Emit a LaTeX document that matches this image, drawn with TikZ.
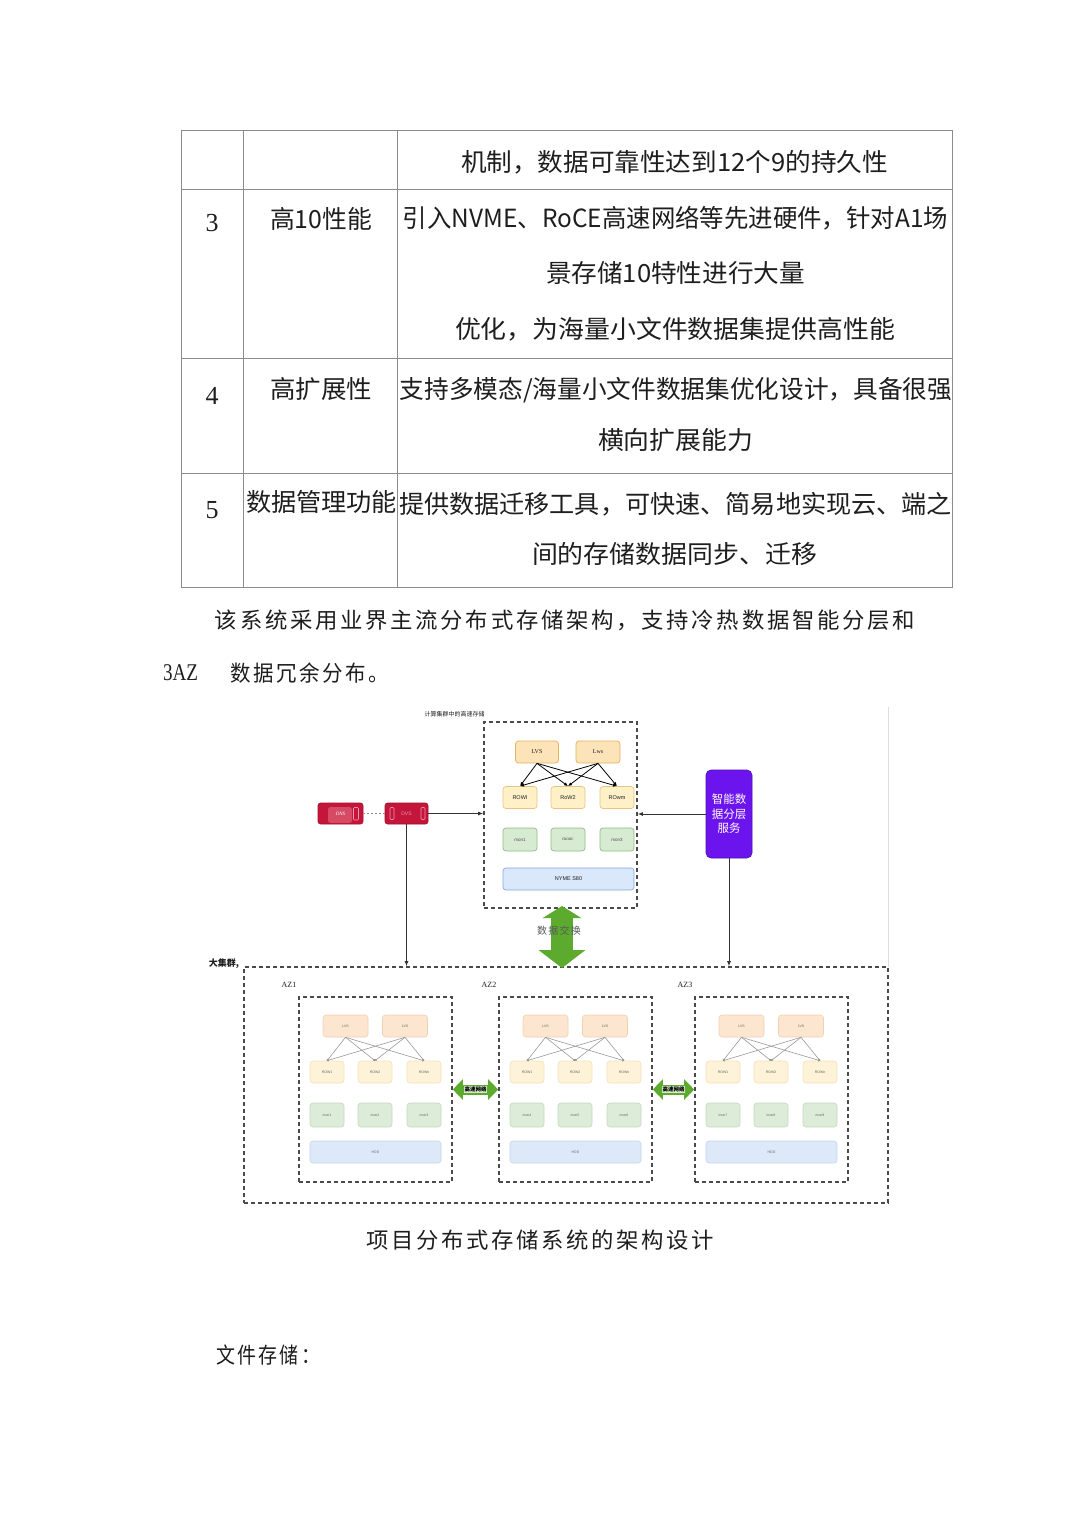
\documentclass[tikz,border=0pt]{standalone}
\usepackage{fontspec}
\usepackage{graphicx}
\setmainfont{Liberation Serif}
\setsansfont{Liberation Sans}
\newfontfamily\cjk{Noto Sans CJK SC}
\newfontfamily\cjksp[LetterSpace=12]{Noto Sans CJK SC}
\usetikzlibrary{arrows.meta}
\newcommand\fitw[2]{\resizebox{#1}{\height}{#2}}

\definecolor{ink}{HTML}{1E1E1E}
\definecolor{ink2}{HTML}{333333}
\definecolor{tablegray}{HTML}{8C8C8C}
\definecolor{dashgray}{HTML}{4A4A4A}
\definecolor{lvsfill}{HTML}{FDE3B8}
\definecolor{lvsdraw}{HTML}{E6B260}
\definecolor{rowfill}{HTML}{FFF0C8}
\definecolor{rowdraw}{HTML}{E4C77E}
\definecolor{monfill}{HTML}{D7EAD2}
\definecolor{mondraw}{HTML}{8FBC84}
\definecolor{nvfill}{HTML}{DAE8FC}
\definecolor{nvdraw}{HTML}{8AA9D6}
\definecolor{alvsfill}{HTML}{FCE6D0}
\definecolor{alvsdraw}{HTML}{F1D2B0}
\definecolor{arowfill}{HTML}{FEF2D8}
\definecolor{arowdraw}{HTML}{F3E2B8}
\definecolor{amonfill}{HTML}{DDEBD9}
\definecolor{amondraw}{HTML}{C4DBBE}
\definecolor{ahddfill}{HTML}{DDE9F9}
\definecolor{ahdddraw}{HTML}{C3D5EE}
\definecolor{redfill}{HTML}{C4163A}
\definecolor{reddraw}{HTML}{A0102C}
\definecolor{redin}{HTML}{D64A64}
\definecolor{redmark}{HTML}{F096A8}
\definecolor{purp}{HTML}{6C14EE}
\definecolor{purpd}{HTML}{4A0FB0}
\definecolor{grn}{HTML}{5CAB2E}
\definecolor{faint}{HTML}{DDDDDD}

\newcommand\azgroup[6]{%
  \node[dbox, minimum width=153pt, minimum height=185pt] (#1) at ({#2+76.5},1089.5) {};
  \node[azlab] (#1lab) at ({#2-10},985) {#3};
  \node[albox] (#1l1) at ({#2+46.5},1026) {LVS};
  \node[albox] (#1l2) at ({#2+106},1026) {LVS};
  \node[arbox] (#1r1) at ({#2+28},1072) {ROW1};
  \node[arbox] (#1r2) at ({#2+76},1072) {ROW2};
  \node[arbox] (#1r3) at ({#2+125},1072) {ROWn};
  \node[ambox] (#1m1) at ({#2+28},1115) {#4};
  \node[ambox] (#1m2) at ({#2+76},1115) {#5};
  \node[ambox] (#1m3) at ({#2+125},1115) {#6};
  \node[ahbox] (#1h) at ({#2+76.5},1152) {HDD};
  \foreach \s in {l1,l2}{\foreach \t in {r1,r2,r3}{\draw[azline] (#1\s.south) -- (#1\t.north);}}
}

\tikzset{
  tline/.style={draw=tablegray, line width=1pt},
  ttext/.style={inner sep=0pt, text=ink, font=\cjk\fontsize{25}{30}\selectfont},
  tnum/.style={inner sep=0pt, text=ink, font=\fontsize{26}{30}\selectfont},
  ptext/.style={inner sep=0pt, text=ink, font=\cjksp\fontsize{22}{26}\selectfont},
  dbox/.style={draw=dashgray, line width=1.6pt, dash pattern=on 4pt off 3pt, inner sep=0pt},
  sbox/.style={rounded corners=3pt, line width=0.7pt, inner sep=0pt, text=ink, font=\sffamily\fontsize{5.5}{6}\selectfont},
  lvsbox/.style={sbox, fill=lvsfill, draw=lvsdraw, minimum width=43pt, minimum height=22pt, font=\rmfamily\fontsize{6}{6}\selectfont},
  rowbox/.style={sbox, fill=rowfill, draw=rowdraw, minimum width=34pt, minimum height=22pt},
  monbox/.style={sbox, fill=monfill, draw=mondraw, minimum width=34pt, minimum height=23pt, font=\sffamily\fontsize{4.5}{5}\selectfont, text=black!70},
  nvbox/.style={sbox, fill=nvfill, draw=nvdraw, minimum width=131pt, minimum height=22pt},
  asbox/.style={rounded corners=3pt, line width=0.6pt, inner sep=0pt, text=black!60, font=\sffamily\fontsize{3.5}{4}\selectfont},
  albox/.style={asbox, fill=alvsfill, draw=alvsdraw, minimum width=45pt, minimum height=22pt},
  arbox/.style={asbox, fill=arowfill, draw=arowdraw, minimum width=34pt, minimum height=22pt},
  ambox/.style={asbox, fill=amonfill, draw=amondraw, minimum width=34pt, minimum height=24pt},
  ahbox/.style={asbox, fill=ahddfill, draw=ahdddraw, minimum width=131pt, minimum height=22pt},
  azline/.style={draw=black!40, line width=0.6pt, -{Circle[length=2.2pt]}},
  topline/.style={draw=black, line width=0.8pt, -{Latex[length=4pt,width=3.5pt]}},
  azlab/.style={inner sep=0pt, text=ink, font=\rmfamily\fontsize{8}{8}\selectfont},
  conn/.style={draw=ink2, line width=0.9pt, -{Latex[length=5pt,width=4pt]}},
  redbox/.style={rounded corners=2.5pt, fill=redfill, draw=reddraw, line width=0.6pt, inner sep=0pt, minimum height=21pt},
  garrowv/.style={draw=grn, line width=22pt, {Triangle[length=12pt,width=38pt]}-{Triangle[length=18pt,width=46pt]}},
  garrowh/.style={draw=grn, line width=10pt, {Triangle[length=10pt,width=20pt]}-{Triangle[length=10pt,width=20pt]}},
  hlab/.style={inner sep=0.6pt, fill=grn!25, text=black, font=\cjk\bfseries\fontsize{5.5}{6}\selectfont},
}

\begin{document}
\begin{tikzpicture}[x=1pt,y=-1pt]
\useasboundingbox (0,0) rectangle (1080,1527);
\fill[white] (0,0) rectangle (1080,1527);

% ---------------- table ----------------
\draw[tline] (181,130) rectangle (952,587);
\foreach \yy in {189,358,473} \draw[tline] (181,\yy) -- (952,\yy);
\foreach \xx in {243,397} \draw[tline] (\xx,130) -- (\xx,587);

\node[ttext] (t1c) at (674.5,162) {\fitw{427pt}{机制，数据可靠性达到12个9的持久性}};
\node[tnum] (t3a) at (212,223) {3};
\node[ttext] (t3b) at (321,219) {\fitw{102pt}{高10性能}};
\node[ttext] (t3c1) at (675.5,218) {\fitw{545pt}{引入NVME、RoCE高速网络等先进硬件，针对A1场}};
\node[ttext] (t3c2) at (675.5,273) {\fitw{259pt}{景存储10特性进行大量}};
\node[ttext] (t3c3) at (675,329) {\fitw{440pt}{优化，为海量小文件数据集提供高性能}};
\node[tnum] (t4a) at (212,396) {4};
\node[ttext] (t4b) at (321,389) {\fitw{102pt}{高扩展性}};
\node[ttext] (t4c1) at (676,390) {\fitw{552pt}{支持多模态/海量小文件数据集优化设计，具备很强}};
\node[ttext] (t4c2) at (675.5,440) {\fitw{155pt}{横向扩展能力}};
\node[tnum] (t5a) at (212,510) {5};
\node[ttext] (t5b) at (321.5,502) {\fitw{151pt}{数据管理功能}};
\node[ttext] (t5c1) at (675.5,504) {\fitw{553pt}{提供数据迁移工具，可快速、简易地实现云、端之}};
\node[ttext] (t5c2) at (674.5,554) {\fitw{285pt}{间的存储数据同步、迁移}};

% ---------------- paragraph ----------------
\node[ptext] (p1) at (565,620) {\fitw{700pt}{该系统采用业界主流分布式存储架构，支持冷热数据智能分层和}};
\node[inner sep=0pt, text=ink, font=\fontsize{24}{26}\selectfont] (p2a) at (180.5,673) {\fitw{35pt}{3AZ}};
\node[ptext] (p2b) at (310,673) {\fitw{158pt}{数据冗余分布。}};

% ---------------- diagram: top part ----------------
\draw[faint, line width=0.8pt] (888,707) -- (888,967);
\node[inner sep=0pt, text=ink, font=\cjk\fontsize{6}{6}\selectfont] (fastlab) at (454.5,714) {计算集群中的高速存储};
\node[dbox, minimum width=153pt, minimum height=186pt] (fast) at (560.5,815) {};

\node[lvsbox] (lvs1) at (537,752) {LVS};
\node[lvsbox, minimum width=44pt] (lvs2) at (598,752) {Lws};
\node[rowbox] (row1) at (520,797.5) {ROWI};
\node[rowbox] (row2) at (568,797.5) {RoW2};
\node[rowbox] (row3) at (617,797.5) {ROwm};
\foreach \s in {lvs1,lvs2}{\foreach \t in {row1,row2,row3}{\draw[topline] (\s.south) -- (\t.north);}}
\node[monbox] (mon1) at (520,839.5) {mon1};
\node[monbox, font=\rmfamily\fontsize{5}{5}\selectfont] (mon2) at (568,839.5) {monc};
\node[monbox] (mon3) at (617,839.5) {mon3};
\node[nvbox] (nvme) at (568.5,879) {NYME S80};

\node[redbox, minimum width=45pt, text=white, font=\rmfamily\itshape\fontsize{5}{5}\selectfont,
  path picture={
    \fill[redin] ([xshift=-12.5pt,yshift=-9.5pt]path picture bounding box.center) rectangle ([xshift=11.5pt,yshift=6.5pt]path picture bounding box.center);
    \draw[redmark, line width=0.6pt, rounded corners=1pt] ([xshift=13pt,yshift=-6.5pt]path picture bounding box.center) rectangle ([xshift=18pt,yshift=6pt]path picture bounding box.center);
  }] (dns) at (340.5,813.5) {\raisebox{-5pt}{DNS}};
\node[redbox, minimum width=43pt, text=redmark, font=\sffamily\fontsize{5}{5}\selectfont,
  path picture={
    \draw[redmark, line width=0.6pt, rounded corners=1pt] ([xshift=-16.5pt,yshift=-6pt]path picture bounding box.center) rectangle ([xshift=-12.5pt,yshift=6pt]path picture bounding box.center);
    \draw[redmark, line width=0.6pt, rounded corners=1pt] ([xshift=14.5pt,yshift=-6pt]path picture bounding box.center) rectangle ([xshift=18.5pt,yshift=6pt]path picture bounding box.center);
  }] (dvs) at (406.5,813.5) {DVS};
\draw[draw=black!45, line width=0.6pt, dash pattern=on 2pt off 2pt] (dns.east) -- (dvs.west);
\draw[conn] (dvs.east) -- (dvs.east -| fast.west);

\node[rounded corners=5pt, fill=purp, draw=purpd, line width=0.6pt, minimum width=46pt, minimum height=88pt,
  inner sep=0pt, text=white, align=center, font=\cjk\fontsize{11.5}{14.5}\selectfont] (tier) at (729,814) {智能数\\据分层\\服务};
\draw[conn] (tier.west) -- (tier.west -| fast.east);

% ---------------- big cluster ----------------
\node[inner sep=0pt, text=ink, font=\cjk\bfseries\fontsize{9}{9}\selectfont] (biglab) at (224,964) {大集群,};
\node[dbox, minimum width=644pt, minimum height=236pt] (big) at (566,1085) {};
\draw[conn] (dvs.south) -- (dvs.south |- big.north);
\draw[conn] (tier.south) -- (tier.south |- big.north);

\coordinate (ga) at (562,906);
\coordinate (gb) at (562,968);
\draw[garrowv] (ga) -- (gb);
\node[inner sep=0pt, text=black!65, font=\cjksp\fontsize{10}{10}\selectfont] (xchg) at (559,931) {数据交换};

\azgroup{az1}{299}{AZ1}{mon1}{mon2}{mon3}
\azgroup{az2}{499}{AZ2}{mon4}{mon5}{mon6}
\azgroup{az3}{695}{AZ3}{mon7}{mon8}{mon9}

\draw[garrowh] (az1.east) -- (az2.west);
\path (az1.east) -- (az2.west) node[midway, hlab] (net1) {高速网络};
\draw[garrowh] (az2.east) -- (az3.west);
\path (az2.east) -- (az3.west) node[midway, hlab] (net2) {高速网络};

% ---------------- caption & heading ----------------
\node[ptext] (cap) at (540,1240) {\fitw{348pt}{项目分布式存储系统的架构设计}};
\node[ptext] (head) at (268,1355) {\fitw{104pt}{文件存储：}};
\end{tikzpicture}
\end{document}
